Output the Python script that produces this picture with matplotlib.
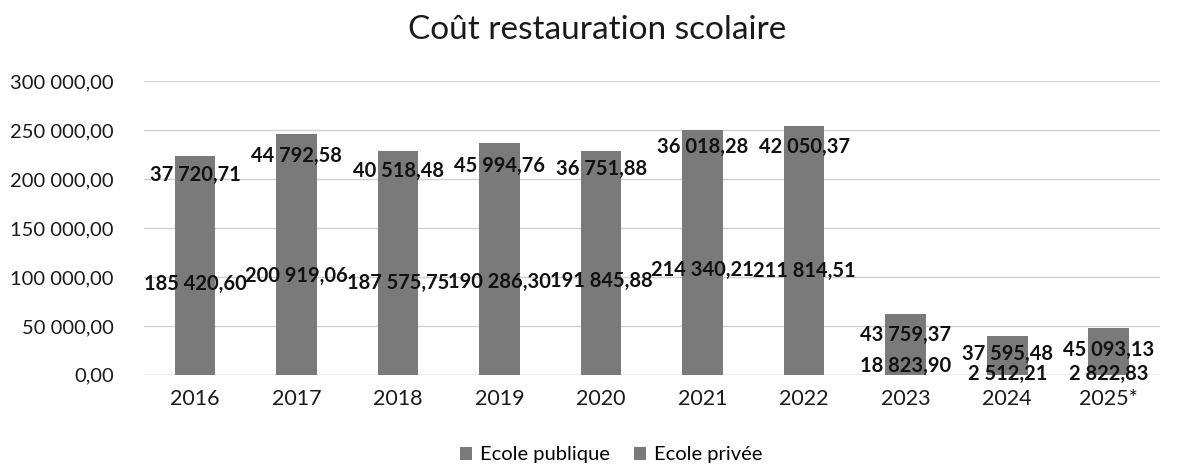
import matplotlib
matplotlib.use("Agg")
import matplotlib.pyplot as plt
from matplotlib.ticker import FuncFormatter

years = ["2016", "2017", "2018", "2019", "2020", "2021", "2022", "2023", "2024", "2025*"]
publique = [185420.60, 200919.06, 187575.75, 190286.30, 191845.88, 214340.21, 211814.51, 18823.90, 2512.21, 2822.83]
privee = [37720.71, 44792.58, 40518.48, 45994.76, 36751.88, 36018.28, 42050.37, 43759.37, 37595.48, 45093.13]
yticks = [0, 50000, 100000, 150000, 200000, 250000, 300000]

def fr(v, dec=2):
    s = f"{v:,.{dec}f}"
    return s.replace(",", " ").replace(".", ",")

plt.rcParams['font.family'] = ['Lato', 'DejaVu Sans']
fig = plt.figure(figsize=(11.82, 4.68), dpi=100)
ax = fig.add_axes([0.122, 0.199, 0.859, 0.628])

x = list(range(len(years)))
c_pub = "#7a7a7a"
c_priv = "#7a7a7a"
b1 = ax.bar(x, publique, width=0.4, color=c_pub, label="Ecole publique", zorder=3)
b2 = ax.bar(x, privee, width=0.4, bottom=publique, color=c_priv, label="Ecole privée", zorder=3)

for i in x:
    ax.text(i, publique[i] / 2, fr(publique[i]), ha="center", va="center",
            fontsize=14.5, fontweight="bold", color="#111111", zorder=4)
    ax.text(i, publique[i] + privee[i] / 2, fr(privee[i]), ha="center", va="center",
            fontsize=14.5, fontweight="bold", color="#111111", zorder=4)

ax.set_xlim(-0.5, len(years) - 0.5)
ax.set_ylim(0, 300000)
ax.set_yticks(yticks)
ax.yaxis.set_major_formatter(FuncFormatter(lambda v, p: fr(v)))
ax.set_xticks(x)
ax.set_xticklabels(years)
ax.tick_params(axis="both", length=0, colors="#1a1a1a")
ax.tick_params(axis="x", pad=10, labelsize=15.5)
ax.tick_params(axis="y", pad=22, labelsize=14.5)
ax.grid(axis="y", color="#d0d0d0", linewidth=1, zorder=0)
for s in ax.spines.values():
    s.set_visible(False)
ax.axhline(0, color="#c8c8c8", linewidth=1, zorder=2)

fig.text(0.505, 0.935, "Coût restauration scolaire", ha="center", va="center", fontsize=24, color="#1a1a1a")
fig.legend(handles=[b1, b2], loc="center", bbox_to_anchor=(0.517, 0.028), ncol=2, frameon=False,
           fontsize=14.5, handlelength=0.6, handleheight=0.6, columnspacing=1.2, handletextpad=0.4)

fig.savefig("out.png", dpi=100, facecolor="white")
